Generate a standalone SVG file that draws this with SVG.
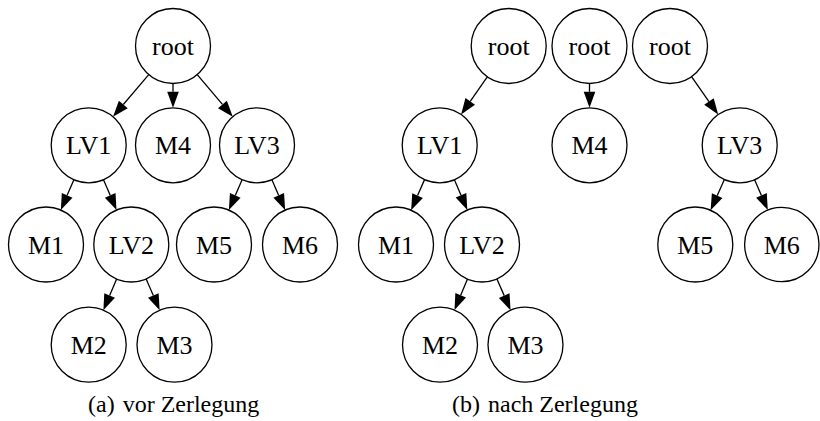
<svg xmlns="http://www.w3.org/2000/svg" width="820" height="421" viewBox="0 0 820 421">
<style>
.n circle{fill:#fff;stroke:#000;stroke-width:1.3}
.n text,.cap{font-family:"Liberation Serif","Times New Roman",serif;fill:#000}
.n text{font-size:26px;text-anchor:middle}
.cap{font-size:24px}
#edges line{stroke:#000;stroke-width:1.3;marker-end:url(#ah)}
</style>
<defs>
<marker id="ah" markerUnits="userSpaceOnUse" markerWidth="17" markerHeight="12" refX="0" refY="6" orient="auto" overflow="visible">
<path d="M0,0.2 L16,6 L0,11.8 z" fill="#000"/>
</marker>
</defs>
<g id="edges">
<line x1="148.73" y1="74.59" x2="123.33" y2="104.51"/>
<line x1="173" y1="83.5" x2="173" y2="91.8"/>
<line x1="197.22" y1="74.63" x2="222.45" y2="104.45"/>
<line x1="73.87" y1="179.74" x2="67.16" y2="195.36"/>
<line x1="103.5" y1="179.76" x2="110.19" y2="195.34"/>
<line x1="242.09" y1="179.71" x2="235.27" y2="195.41"/>
<line x1="271.91" y1="179.71" x2="278.73" y2="195.41"/>
<line x1="116.63" y1="279.01" x2="109.63" y2="295.47"/>
<line x1="146.15" y1="278.94" x2="153.32" y2="295.57"/>
<line x1="487.3" y1="76.79" x2="470.23" y2="101.37"/>
<line x1="589.5" y1="83.5" x2="589.5" y2="91.8"/>
<line x1="691.54" y1="76.69" x2="708.97" y2="101.51"/>
<line x1="424.58" y1="179.62" x2="417.57" y2="195.54"/>
<line x1="454.41" y1="179.8" x2="461.01" y2="195.28"/>
<line x1="724.38" y1="179.53" x2="717.16" y2="195.67"/>
<line x1="754.61" y1="179.71" x2="761.43" y2="195.41"/>
<line x1="467.5" y1="279.08" x2="460.69" y2="295.36"/>
<line x1="496.93" y1="278.9" x2="504.2" y2="295.62"/>
</g>
<g id="a_root" class="n"><circle cx="173" cy="46" r="37.5"/><text x="173" y="55">root</text></g>
<g id="a_LV1" class="n"><circle cx="88.7" cy="145.3" r="37.5"/><text x="88.7" y="154.3">LV1</text></g>
<g id="a_M4" class="n"><circle cx="173" cy="145.3" r="37.5"/><text x="173" y="154.3">M4</text></g>
<g id="a_LV3" class="n"><circle cx="257" cy="145.3" r="37.5"/><text x="257" y="154.3">LV3</text></g>
<g id="a_M1" class="n"><circle cx="46" cy="244.5" r="37.5"/><text x="46" y="253.5">M1</text></g>
<g id="a_LV2" class="n"><circle cx="131.3" cy="244.5" r="37.5"/><text x="131.3" y="253.5">LV2</text></g>
<g id="a_M5" class="n"><circle cx="214" cy="244.5" r="37.5"/><text x="214" y="253.5">M5</text></g>
<g id="a_M6" class="n"><circle cx="300" cy="244.5" r="37.5"/><text x="300" y="253.5">M6</text></g>
<g id="a_M2" class="n"><circle cx="88.7" cy="344.7" r="37.5"/><text x="88.7" y="353.7">M2</text></g>
<g id="a_M3" class="n"><circle cx="174.5" cy="344.7" r="37.5"/><text x="174.5" y="353.7">M3</text></g>
<g id="b_root1" class="n"><circle cx="508.7" cy="46" r="37.5"/><text x="508.7" y="55">root</text></g>
<g id="b_root2" class="n"><circle cx="589.5" cy="46" r="37.5"/><text x="589.5" y="55">root</text></g>
<g id="b_root3" class="n"><circle cx="670" cy="46" r="37.5"/><text x="670" y="55">root</text></g>
<g id="b_LV1" class="n"><circle cx="439.7" cy="145.3" r="37.5"/><text x="439.7" y="154.3">LV1</text></g>
<g id="b_M4" class="n"><circle cx="589.5" cy="145.3" r="37.5"/><text x="589.5" y="154.3">M4</text></g>
<g id="b_LV3" class="n"><circle cx="739.7" cy="145.3" r="37.5"/><text x="739.7" y="154.3">LV3</text></g>
<g id="b_M1" class="n"><circle cx="396" cy="244.5" r="37.5"/><text x="396" y="253.5">M1</text></g>
<g id="b_LV2" class="n"><circle cx="482" cy="244.5" r="37.5"/><text x="482" y="253.5">LV2</text></g>
<g id="b_M5" class="n"><circle cx="695.3" cy="244.5" r="37.5"/><text x="695.3" y="253.5">M5</text></g>
<g id="b_M6" class="n"><circle cx="781.8" cy="244.5" r="37.2"/><text x="781.8" y="253.5">M6</text></g>
<g id="b_M2" class="n"><circle cx="440" cy="344.7" r="37.5"/><text x="440" y="353.7">M2</text></g>
<g id="b_M3" class="n"><circle cx="525.5" cy="344.7" r="37.5"/><text x="525.5" y="353.7">M3</text></g>
<text class="cap" x="88" y="412">(a)<tspan dx="8">vor Zerlegung</tspan></text>
<text class="cap" x="452" y="412">(b)<tspan dx="8">nach Zerlegung</tspan></text>
</svg>
